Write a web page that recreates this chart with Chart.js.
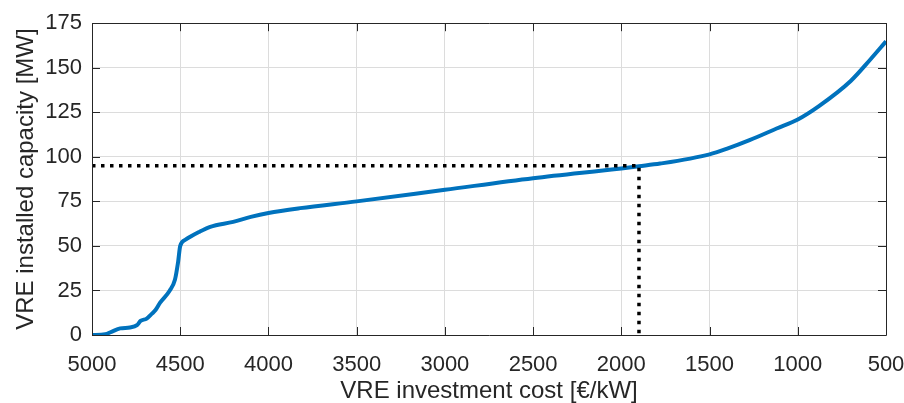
<!DOCTYPE html>
<html>
<head>
<meta charset="utf-8">
<script src="https://cdn.jsdelivr.net/npm/chart.js@4"></script>
<style>
  html, body { margin: 0; padding: 0; background: #fff; }
  #wrap { width: 904px; height: 403px; }
</style>
</head>
<body>
<div id="wrap"><canvas id="myChart" width="904" height="403"></canvas></div>
<script>
// investment cost [€/kW] and installed capacity [MW]
const cost = [5000, 4925, 4890, 4840, 4785, 4745, 4725, 4690, 4660, 4640, 4615, 4560, 4530, 4512, 4500,
  4470, 4390, 4330, 4200, 4100, 4000, 3820, 3500, 3000, 2500, 2000, 1900, 1780, 1500, 1400, 1270, 1120,
  1000, 880, 700, 590, 500];
const capacity = [0, 0.4, 1.8, 3.7, 4.2, 5.5, 7.9, 9.2, 12, 14, 18, 24.8, 31, 41, 50,
  53.5, 58, 60.7, 63.5, 66.3, 68.5, 71.2, 75, 81.5, 88, 93.5, 94.7, 96.2, 101.4, 104.6, 109.5, 115.9,
  121, 128.5, 142.6, 154.5, 164.8];
// marker lines
const markCost = [5000, 1900, 1900];
const markCap = [95, 95, 0];

const xTicks = [5000, 4500, 4000, 3500, 3000, 2500, 2000, 1500, 1000, 500];
const yTicks = [0, 25, 50, 75, 100, 125, 150, 175];

const axisColor = '#262626';
const family = '"Liberation Sans", Arial, sans-serif';
const tickFont = { family: family, size: 22 };

// box on all four sides with inward tick marks
const boxPlugin = {
  id: 'box',
  afterDraw(chart) {
    const ctx = chart.ctx;
    const a = chart.chartArea;
    const xs = chart.scales.x, ys = chart.scales.y;
    const len = 8;
    ctx.save();
    ctx.strokeStyle = axisColor;
    ctx.lineWidth = 1;
    ctx.beginPath();
    ctx.rect(Math.round(a.left) + 0.5, Math.round(a.top) + 0.5, Math.round(a.right - a.left), Math.round(a.bottom - a.top));
    xTicks.forEach(v => {
      const px = Math.round(xs.getPixelForValue(v)) + 0.5;
      ctx.moveTo(px, a.bottom); ctx.lineTo(px, a.bottom - len);
      ctx.moveTo(px, a.top); ctx.lineTo(px, a.top + len);
    });
    yTicks.forEach(v => {
      const py = Math.round(ys.getPixelForValue(v)) + 0.5;
      ctx.moveTo(a.left, py); ctx.lineTo(a.left + len, py);
      ctx.moveTo(a.right, py); ctx.lineTo(a.right - len, py);
    });
    ctx.stroke();
    ctx.restore();
  }
};

new Chart(document.getElementById('myChart'), {
  type: 'scatter',
  data: {
    datasets: [{
      label: 'marker',
      data: markCost.map((x, i) => ({ x: x, y: markCap[i] })),
      showLine: true,
      borderColor: '#000000',
      borderWidth: 3.5,
      borderDash: [3.5, 5.5],
      pointRadius: 0,
      order: 0
    }, {
      label: 'VRE',
      data: cost.map((x, i) => ({ x: x, y: capacity[i] })),
      showLine: true,
      borderColor: '#0072BD',
      borderWidth: 4,
      pointRadius: 0,
      cubicInterpolationMode: 'monotone',
      order: 1
    }]
  },
  options: {
    responsive: false,
    animation: false,
    layout: { padding: { top: 18, right: 18, left: 0, bottom: 0 } },
    plugins: { legend: { display: false }, tooltip: { enabled: false } },
    scales: {
      x: {
        type: 'linear',
        reverse: true,
        min: 500,
        max: 5000,
        afterBuildTicks: s => { s.ticks = xTicks.map(v => ({ value: v })); },
        afterFit: s => { s.height = 68; s.paddingLeft = 0; s.paddingRight = 0; },
        grid: { color: '#dcdcdc', drawTicks: false },
        border: { display: false },
        ticks: { color: axisColor, font: tickFont, padding: 17, maxRotation: 0, callback: v => String(v) },
        title: { display: true, text: 'VRE investment cost [€/kW]', color: axisColor,
          font: { family: family, size: 24, lineHeight: 0.95 }, padding: { top: 0, bottom: 0 } }
      },
      y: {
        type: 'linear',
        min: 0,
        max: 175,
        afterBuildTicks: s => { s.ticks = yTicks.map(v => ({ value: v })); },
        afterFit: s => { s.width = 92; },
        grid: { color: '#dcdcdc', drawTicks: false },
        border: { display: false },
        ticks: { color: axisColor, font: tickFont, padding: 10, callback: v => String(v) },
        title: { display: true, text: 'VRE installed capacity [MW]', color: axisColor,
          font: { family: family, size: 24 }, padding: { top: 12, bottom: 0 } }
      }
    }
  },
  plugins: [boxPlugin]
});
</script>
</body>
</html>
